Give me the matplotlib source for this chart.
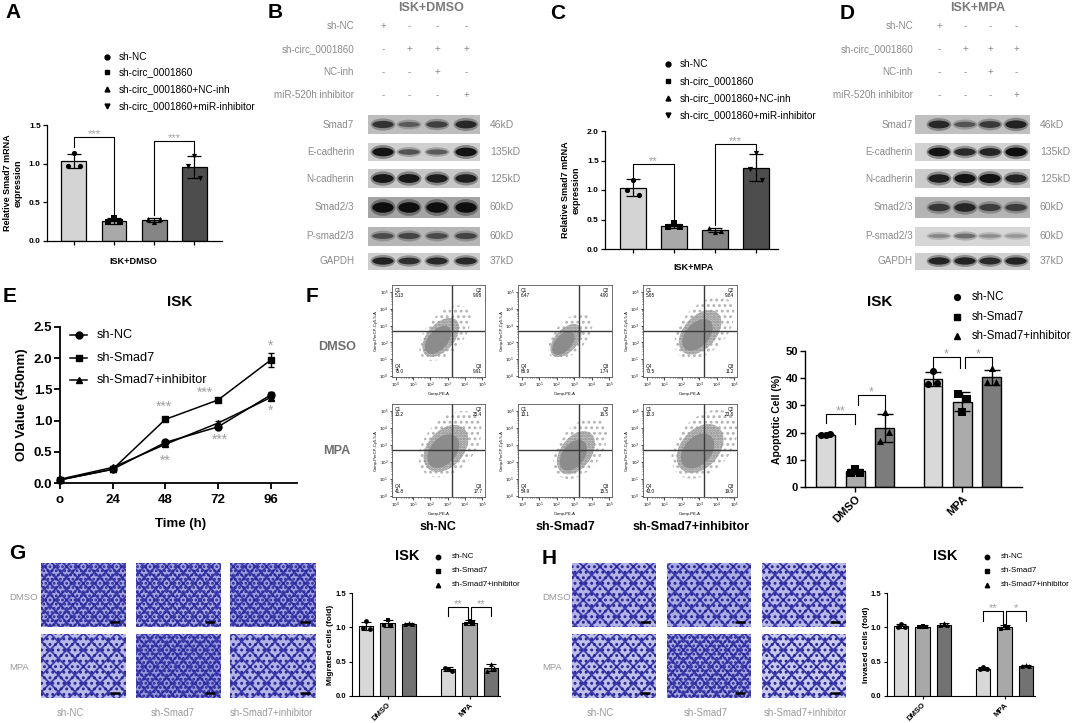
import numpy as np
import matplotlib
matplotlib.use("Agg")
import matplotlib.pyplot as plt
from matplotlib.patches import Rectangle, Ellipse

plt.rcParams['font.family'] = ['Liberation Sans', 'DejaVu Sans']
plt.rcParams['hatch.linewidth'] = 1.3

W, H = 1072, 723

# ---------------- data ----------------
# A / C: relative Smad7 mRNA
ac_groups = ['sh-NC', 'sh-circ_0001860', 'sh-circ_0001860+NC-inh', 'sh-circ_0001860+miR-inhibitor']
a_mean = [1.03, 0.26, 0.27, 0.96]
a_sd = [0.09, 0.04, 0.03, 0.14]
a_pts = [[0.97, 1.14, 0.97], [0.24, 0.30, 0.25], [0.29, 0.24, 0.28], [0.97, 1.10, 0.82]]
c_mean = [1.04, 0.39, 0.32, 1.38]
c_sd = [0.14, 0.04, 0.04, 0.23]
c_pts = [[1.00, 1.17, 0.92], [0.37, 0.44, 0.37], [0.36, 0.28, 0.31], [1.36, 1.62, 1.17]]

# B / D: western blots (band strength 0..1 per lane)
treat_rows = ['sh-NC', 'sh-circ_0001860', 'NC-inh', 'miR-520h inhibitor']
treat_signs = [['+', '-', '-', '-'], ['-', '+', '+', '+'], ['-', '-', '+', '-'], ['-', '-', '-', '+']]
blot_rows = ['Smad7', 'E-cadherin', 'N-cadherin', 'Smad2/3', 'P-smad2/3', 'GAPDH']
blot_kd = ['46kD', '135kD', '125kD', '60kD', '60kD', '37kD']
b_band = [[0.65, 0.35, 0.55, 0.75], [0.95, 0.45, 0.40, 0.95], [0.90, 0.90, 0.85, 0.85],
          [1.00, 1.00, 1.00, 1.00], [0.45, 0.50, 0.45, 0.50], [0.80, 0.70, 0.75, 0.75]]
d_band = [[0.75, 0.40, 0.60, 0.80], [0.95, 0.75, 0.80, 1.00], [0.85, 0.95, 0.95, 0.80],
          [0.60, 0.75, 0.55, 0.55], [0.15, 0.30, 0.12, 0.08], [0.80, 0.80, 0.75, 0.80]]

# E: OD450 over time
e_time = [0, 24, 48, 72, 96]
e_tick_labels = ['o', '24', '48', '72', '96']
e_labels = ['sh-NC', 'sh-Smad7', 'sh-Smad7+inhibitor']
e_shnc = [0.05, 0.22, 0.65, 0.90, 1.41]
e_shnc_sd = [0.02, 0.02, 0.03, 0.03, 0.05]
e_smad7 = [0.05, 0.22, 1.02, 1.33, 1.97]
e_smad7_sd = [0.02, 0.02, 0.03, 0.03, 0.11]
e_inh = [0.06, 0.25, 0.62, 0.96, 1.37]
e_inh_sd = [0.02, 0.02, 0.03, 0.03, 0.04]
e_stars = [('***', 47.5, 1.22), ('**', 48, 0.36), ('***', 66, 1.44), ('***', 73, 0.70),
           ('*', 96, 2.20), ('*', 96, 1.16)]

# F: flow cytometry quadrants (rows DMSO / MPA, cols sh-NC / sh-Smad7 / sh-Smad7+inhibitor)
f_rows = ['DMSO', 'MPA']
f_cols = ['sh-NC', 'sh-Smad7', 'sh-Smad7+inhibitor']
flow_q1 = [[5.13, 6.47, 5.65], [13.2, 13.1, 13.3]]
flow_q2 = [[9.98, 4.90, 9.84], [25.4, 16.5, 23.8]]
flow_q3 = [[9.91, 1.74, 11.2], [17.7, 15.5, 19.9]]
flow_q4 = [[75.0, 86.9, 73.5], [41.8, 54.9, 43.0]]

# F: apoptotic cells (%)
grp_labels = ['DMSO', 'MPA']
f_mean = [19.3, 5.7, 21.6, 39.7, 31.4, 40.3]
f_sd = [0.3, 1.0, 5.2, 2.7, 3.4, 2.8]
f_pts = [[19.0, 19.3, 19.5], [5.0, 6.8, 5.2], [17.0, 27.5, 20.3],
         [38.0, 42.8, 38.2], [34.3, 27.7, 32.2], [38.7, 43.6, 38.7]]

# G: migrated cells (fold), H: invaded cells (fold)
g_mean = [1.02, 1.06, 1.05, 0.39, 1.07, 0.41]
g_sd = [0.06, 0.05, 0.01, 0.03, 0.03, 0.05]
g_pts = [[0.99, 1.09, 0.98], [1.04, 1.11, 1.03], [1.05, 1.06, 1.05],
         [0.41, 0.39, 0.37], [1.05, 1.09, 1.06], [0.36, 0.46, 0.41]]
h_mean = [1.02, 1.01, 1.04, 0.40, 1.00, 0.44]
h_sd = [0.03, 0.02, 0.02, 0.02, 0.03, 0.01]
h_pts = [[1.00, 1.05, 1.01], [1.00, 1.02, 1.01], [1.03, 1.06, 1.04],
         [0.39, 0.42, 0.40], [0.98, 1.02, 0.99], [0.44, 0.45, 0.44]]
# stained-cell coverage of the transwell photos (rows DMSO / MPA)
g_cov = [[0.62, 0.60, 0.68], [0.45, 0.72, 0.50]]
h_cov = [[0.50, 0.55, 0.45], [0.40, 0.58, 0.32]]

# ---------------- helpers ----------------
fig = plt.figure(figsize=(W / 100, H / 100), dpi=100)
ov = fig.add_axes([0, 0, 1, 1])
ov.set_xlim(0, W)
ov.set_ylim(H, 0)
ov.axis('off')

GRAY_TXT = '#8a8a8a'
STAR = '#a0a0a0'


def px_ax(x0, y0, x1, y1):
    a = fig.add_axes([x0 / W, 1 - y1 / H, (x1 - x0) / W, (y1 - y0) / H])
    a.set_facecolor('none')
    return a


def T(x, y, s, **kw):
    kw.setdefault('ha', 'center')
    kw.setdefault('va', 'center')
    ov.text(x, y, s, **kw)


def letter(x, y, s):
    ov.text(x, y, s, fontsize=15, fontweight='bold', ha='left', va='top')


def style_ax(ax, lw, fs, tl):
    for s in ['top', 'right']:
        ax.spines[s].set_visible(False)
    for s in ['left', 'bottom']:
        ax.spines[s].set_linewidth(lw)
    ax.tick_params(width=lw, length=tl, labelsize=fs, pad=1.5)


def bars(ax, pos, mean, sd, pts, colors, markers, width, ms, cap, lw):
    ax.bar(pos, mean, width, color=colors, edgecolor='black', linewidth=lw, zorder=1)
    ax.errorbar(pos, mean, yerr=sd, fmt='none', ecolor='black', elinewidth=lw,
                capsize=cap, capthick=lw, zorder=3)
    for p, vals, m in zip(pos, pts, markers):
        ax.scatter(p + np.array([-0.24, 0, 0.24]) * width, vals, marker=m, s=ms,
                   color='black', linewidths=0, zorder=4, clip_on=False)


def bracket(ax, x1, x2, y, y1, y2, label, fs, lw=0.8):
    ax.plot([x1, x1, x2, x2], [y1, y, y, y2], color='black', lw=lw, clip_on=False, zorder=5)
    ax.text((x1 + x2) / 2, y, label, ha='center', va='baseline', fontsize=fs,
            color=STAR, clip_on=False)


def legend_rows(xm, xt, ys, labels, markers, fs, ms):
    for y, lab, m in zip(ys, labels, markers):
        ov.plot(xm, y, marker=m, color='black', ms=ms, ls='none')
        ov.text(xt, y, lab, fontsize=fs, ha='left', va='center')


def blot(x0, x1, yc, h, bg, lanes, vals, bw):
    ov.add_patch(Rectangle((x0, yc - h / 2), x1 - x0, h, facecolor=bg, edgecolor='none'))
    for lx, v in zip(lanes, vals):
        ov.add_patch(Ellipse((lx, yc), bw * 1.08, h * (0.35 + 0.45 * v),
                             facecolor='#3a3a3a', alpha=0.15 + 0.35 * v, edgecolor='none'))
        ov.add_patch(Ellipse((lx, yc), bw * 0.92, h * (0.15 + 0.35 * v),
                             facecolor='#0e0e0e', alpha=min(1.0, 0.15 + 0.85 * v), edgecolor='none'))


def micrograph(x0, y0, x1, y1, cov):
    light = np.array([0.95, 0.95, 0.99])
    blue = np.array([0.45, 0.45, 0.82])
    base = light * (1 - cov) + blue * cov
    w, h = x1 - x0, y1 - y0
    ov.add_patch(Rectangle((x0, y0), w, h, facecolor=base, edgecolor='#3c3cb0', lw=0,
                           hatch='xxx' if cov > 0.55 else 'xx'))
    ov.add_patch(Rectangle((x0, y0), w, h, facecolor='none', edgecolor='#24248f', lw=0,
                           hatch='....' if cov > 0.55 else '...'))
    ov.plot([x1 - 16, x1 - 6], [y1 - 5, y1 - 5], color='black', lw=1.8, solid_capstyle='butt')


# ---------------- A ----------------
letter(5, 3, 'A')
bar_cols4 = ['#d4d4d4', '#a9a9a9', '#858585', '#4d4d4d']
mk4 = ['o', 's', '^', 'v']
legend_rows(107, 119, [57, 72, 89, 106], ac_groups, mk4, 7.2, 3.5)
ax = px_ax(47, 125, 222, 241)
bars(ax, [1, 2, 3, 4], a_mean, a_sd, a_pts, bar_cols4, mk4, 0.62, 14, 5, 0.9)
ax.set_xlim(0.33, 4.69)
ax.set_ylim(0, 1.5)
ax.set_yticks([0, 0.5, 1.0, 1.5], ['0.0', '0.5', '1.0', '1.5'], fontweight='bold')
ax.set_xticks([1, 2, 3, 4], ['', '', '', ''])
style_ax(ax, 0.9, 6, 3)
bracket(ax, 1, 2, 1.35, 1.22, 0.32, '***', 8)
bracket(ax, 3, 4, 1.29, 0.33, 1.12, '***', 8)
T(13, 183, 'Relative Smad7 mRNA\nexpression', rotation=90, fontsize=6.5, fontweight='bold')
T(133, 261, 'ISK+DMSO', fontsize=6.6, fontweight='bold')

# ---------------- C ----------------
letter(550, 4, 'C')
legend_rows(668, 680, [64, 81, 98, 115], ac_groups, mk4, 7.2, 3.5)
ax = px_ax(605, 131, 778, 249)
bars(ax, [1, 2, 3, 4], c_mean, c_sd, c_pts, bar_cols4, mk4, 0.63, 14, 5, 0.9)
ax.set_xlim(0.32, 4.54)
ax.set_ylim(0, 2.0)
ax.set_yticks([0, 0.5, 1.0, 1.5, 2.0], ['0.0', '0.5', '1.0', '1.5', '2.0'], fontweight='bold')
ax.set_xticks([1, 2, 3, 4], ['', '', '', ''])
style_ax(ax, 0.9, 6, 3)
bracket(ax, 1, 2, 1.44, 1.21, 0.47, '**', 8)
bracket(ax, 3, 4, 1.78, 0.40, 1.65, '***', 8)
T(571, 190, 'Relative Smad7 mRNA\nexpression', rotation=90, fontsize=6.5, fontweight='bold')
T(694, 268, 'ISK+MPA', fontsize=6.6, fontweight='bold')

# ---------------- B / D blots ----------------
treat_y = [26, 49, 72, 95]
row_y = [124.5, 152, 178.5, 207.5, 236, 261]
row_h = [19, 18, 19, 21, 19, 17]
b_bg = ['#bdbdbd', '#cfcfcf', '#c6c6c6', '#a4a4a4', '#b6b6b6', '#cdcdcd']
d_bg = ['#c0c0c0', '#d2d2d2', '#cbcbcb', '#b4b4b4', '#d6d6d6', '#cfcfcf']


def blot_panel(lab_x, lanes, box, kd_x, title_x, title, bands, bgs):
    T(title_x, 8, title, fontsize=9, fontweight='bold', color='#7a7a7a')
    for y, name, signs in zip(treat_y, treat_rows, treat_signs):
        T(lab_x, y, name, ha='right', fontsize=7.1, color=GRAY_TXT)
        for lx, s in zip(lanes, signs):
            T(lx, y, s, fontsize=7, color=GRAY_TXT)
    for y, h, name, kd, vals, bg in zip(row_y, row_h, blot_rows, blot_kd, bands, bgs):
        T(lab_x, y, name, ha='right', fontsize=7.1, color=GRAY_TXT)
        blot(box[0], box[1], y, h, bg, lanes, vals, 23)
        T(kd_x, y, kd, ha='left', fontsize=7.5, color=GRAY_TXT)


letter(268, 3, 'B')
blot_panel(354, [383, 409, 437, 466], (368, 480), 490, 431, 'ISK+DMSO', b_band, b_bg)
letter(840, 4, 'D')
blot_panel(913, [939, 965, 990, 1016], (915, 1030), 1040, 978, 'ISK+MPA', d_band, d_bg)

# ---------------- E ----------------
letter(3, 287, 'E')
T(180, 302, 'ISK', fontsize=11, fontweight='bold')
ax = px_ax(60, 327, 297, 483)
e_series = [(e_shnc, e_shnc_sd, 'o'), (e_smad7, e_smad7_sd, 's'), (e_inh, e_inh_sd, '^')]
for vals, sds, m in e_series:
    ax.errorbar(e_time, vals, yerr=sds, color='black', marker=m, ms=5, lw=1.1,
                capsize=2.5, elinewidth=1.0, clip_on=False, zorder=3)
ax.set_xlim(0, 108)
ax.set_ylim(0, 2.5)
ax.set_yticks([0, 0.5, 1.0, 1.5, 2.0, 2.5], ['0.0', '0.5', '1.0', '1.5', '2.0', '2.5'],
              fontweight='bold')
ax.set_xticks(e_time, e_tick_labels, fontweight='bold')
style_ax(ax, 1.3, 9.5, 4)
ax.tick_params(axis='x', pad=4)
for s, x, y in e_stars:
    ax.text(x, y, s, ha='center', va='center', fontsize=10, color=STAR)
for y, lab, (_, _, m) in zip([335, 358, 380], e_labels, e_series):
    ov.plot([70, 87], [y, y], color='black', lw=1.1)
    ov.plot(78.5, y, marker=m, color='black', ms=5)
    T(97, y, lab, ha='left', fontsize=9.2)
T(22, 405, 'OD Value (450nm)', rotation=90, fontsize=9.5, fontweight='bold')
T(181, 524, 'Time (h)', fontsize=9.5, fontweight='bold')

# ---------------- F flow plots ----------------
letter(306, 287, 'F')
flow_x = [(392, 485), (518, 612), (643, 737)]
flow_y = [(285, 377), (404, 497)]
# cloud shape: centre x, centre y, length, width, angle (data units of the plot)
clouds = [[(2.45, 2.15, 2.6, 1.5, 50), (2.38, 1.96, 2.2, 1.25, 50), (2.9, 2.45, 2.9, 1.8, 50)],
          [(2.75, 2.65, 3.0, 2.0, 50), (2.95, 2.40, 2.7, 1.7, 55), (2.9, 2.65, 3.1, 2.1, 50)]]
minor = [k + np.log10(m) for k in range(5) for m in range(2, 10)]
for r in range(2):
    T(337, [347, 451][r], f_rows[r], fontsize=9.1, fontweight='bold', color='#6e6e6e')
    for c in range(3):
        x0, x1 = flow_x[c]
        y0, y1 = flow_y[r]
        fa = px_ax(x0, y0, x1, y1)
        fa.set_xlim(-0.23, 5.17)
        fa.set_ylim(-0.06, 5.42)
        cx, cy, ln, wd, ang = clouds[r][c]
        fa.add_patch(Ellipse((cx + 0.4, cy + 0.4), ln * 1.5, wd * 1.45, angle=ang, facecolor='none',
                             edgecolor='#b4b4b4', lw=0, hatch='...'))
        fa.add_patch(Ellipse((cx + 0.15, cy + 0.15), ln * 1.05, wd * 1.05, angle=ang,
                             facecolor='#bdbdbd', alpha=0.8, edgecolor='none'))
        fa.add_patch(Ellipse((cx, cy), ln * 0.75, wd * 0.75, angle=ang, facecolor='#8c8c8c',
                             edgecolor='none'))
        fa.add_patch(Ellipse((cx + 0.15, cy + 0.15), ln * 1.05, wd * 1.05, angle=ang,
                             facecolor='none', edgecolor='#8c8c8c', lw=0, hatch='......'))
        fa.axvline(3.26, color='#3a3a3a', lw=1.0)
        fa.axhline(2.68, color='#3a3a3a', lw=1.0)
        for s in fa.spines.values():
            s.set_linewidth(0.6)
            s.set_color('#555555')
        ticks = [0, 1, 2, 3, 4, 5]
        tl = [r'$10^{%d}$' % k for k in ticks]
        fa.set_xticks(ticks, tl)
        fa.set_yticks(ticks, tl)
        fa.set_xticks(minor, minor=True)
        fa.set_yticks(minor, minor=True)
        fa.tick_params(labelsize=3, length=1.8, width=0.5, pad=0.8)
        fa.tick_params(which='minor', length=1.0, width=0.4)
        fa.set_xlabel('Comp-PE-A', fontsize=3, labelpad=1.5)
        fa.set_ylabel('Comp-PerCP-Cy5-5-A', fontsize=3, labelpad=1)
        qfs = dict(fontsize=3.3, transform=fa.transAxes, linespacing=1.1)
        fa.text(0.03, 0.97, 'Q1\n%s' % format(flow_q1[r][c], '#.3g'), ha='left', va='top', **qfs)
        fa.text(0.97, 0.97, 'Q2\n%s' % format(flow_q2[r][c], '#.3g'), ha='right', va='top', **qfs)
        fa.text(0.03, 0.03, 'Q4\n%s' % format(flow_q4[r][c], '#.3g'), ha='left', va='bottom', **qfs)
        fa.text(0.97, 0.03, 'Q3\n%s' % format(flow_q3[r][c], '#.3g'), ha='right', va='bottom', **qfs)
for x, lab in zip([438, 565, 691], f_cols):
    T(x, 527, lab, fontsize=9, fontweight='bold')

# ---------------- F bar chart ----------------
bar_cols3 = ['#d9d9d9', '#ababab', '#7c7c7c']
mk3 = ['o', 's', '^']
T(880, 302, 'ISK', fontsize=11, fontweight='bold')
legend_rows(957, 972, [297, 317, 336], f_cols, mk3, 8.3, 4.2)
ax = px_ax(805, 351, 1022, 487)
fpos = [0, 1, 2, 3.63, 4.63, 5.63]
bars(ax, fpos, f_mean, f_sd, f_pts, bar_cols3 * 2, mk3 * 2, 0.64, 26, 6, 1.0)
ax.set_xlim(-0.71, 6.65)
ax.set_ylim(0, 50)
ax.set_yticks([0, 10, 20, 30, 40, 50], ['0', '10', '20', '30', '40', '50'], fontweight='bold')
ax.set_xticks([1, 4.63], grp_labels, fontweight='bold', rotation=45, ha='right',
              rotation_mode='anchor')
style_ax(ax, 1.0, 8, 3.5)
bracket(ax, 0, 1, 26.8, 23.5, 23.0, '**', 9)
bracket(ax, 1.08, 2, 33.8, 30.0, 28.5, '*', 9)
bracket(ax, 3.63, 4.55, 47.8, 44.0, 43.8, '*', 9)
bracket(ax, 4.71, 5.63, 47.8, 43.8, 44.5, '*', 9)
T(777, 419, 'Apoptotic Cell (%)', rotation=90, fontsize=7.5, fontweight='bold')

# ---------------- G / H ----------------
img_rows = [(563, 627), (634, 698)]
gpos = [0, 1, 2, 3.85, 4.85, 5.85]


def transwell(letter_xy, cols_x, row_lab_x, col_lab_x, cov, ax_x, mean, sd, pts, ylab,
              ylab_x, title_x, leg_x, stars2):
    letter(letter_xy[0], letter_xy[1], letter_xy[2])
    for r in range(2):
        y0, y1 = img_rows[r]
        T(row_lab_x, (y0 + y1) / 2 + 2, grp_labels[r], ha='left', fontsize=6.8, color='#9a9a9a')
        for c in range(3):
            micrograph(cols_x[c][0], y0, cols_x[c][1], y1, cov[r][c])
    for x, lab in zip(col_lab_x, f_cols):
        T(x, 713, lab, fontsize=6.9, color='#9a9a9a')
    T(title_x, 556, 'ISK', fontsize=10.5, fontweight='bold')
    legend_rows(leg_x, leg_x + 14, [557, 571, 585], f_cols, mk3, 5.8, 3.2)
    a = px_ax(ax_x, 593, ax_x + 148, 696)
    bars(a, gpos, mean, sd, pts, ['#d8d8d8', '#a8a8a8', '#727272'] * 2, mk3 * 2, 0.67, 12, 3.5, 0.8)
    a.set_xlim(-0.67, 6.28)
    a.set_ylim(0, 1.5)
    a.set_yticks([0, 0.5, 1.0, 1.5], ['0.0', '0.5', '1.0', '1.5'], fontweight='bold')
    a.set_xticks([1, 4.85], grp_labels, fontweight='bold', rotation=45, ha='right',
                 rotation_mode='anchor')
    style_ax(a, 0.8, 5.5, 2.5)
    bracket(a, 3.85, 4.78, stars2[0], stars2[1], stars2[2], stars2[3], 8)
    bracket(a, 4.92, 5.85, stars2[0], stars2[2], stars2[1], stars2[4], 8)
    T(ylab_x, 645, ylab, rotation=90, fontsize=6, fontweight='bold')


transwell((9, 544, 'G'), [(41, 126), (136, 221), (230, 316)], 9, [70, 173, 271], g_cov,
          352, g_mean, g_sd, g_pts, 'Migrated cells (fold)', 331, 407, 438,
          (1.30, 1.16, 1.10, '**', '**'))
transwell((542, 549, 'H'), [(572, 656), (667, 751), (762, 846)], 542, [600, 706, 805], h_cov,
          887, h_mean, h_sd, h_pts, 'Invased cells (fold)', 866, 945, 987,
          (1.24, 1.09, 1.07, '**', '*'))

fig.savefig('out.png', dpi=100)
